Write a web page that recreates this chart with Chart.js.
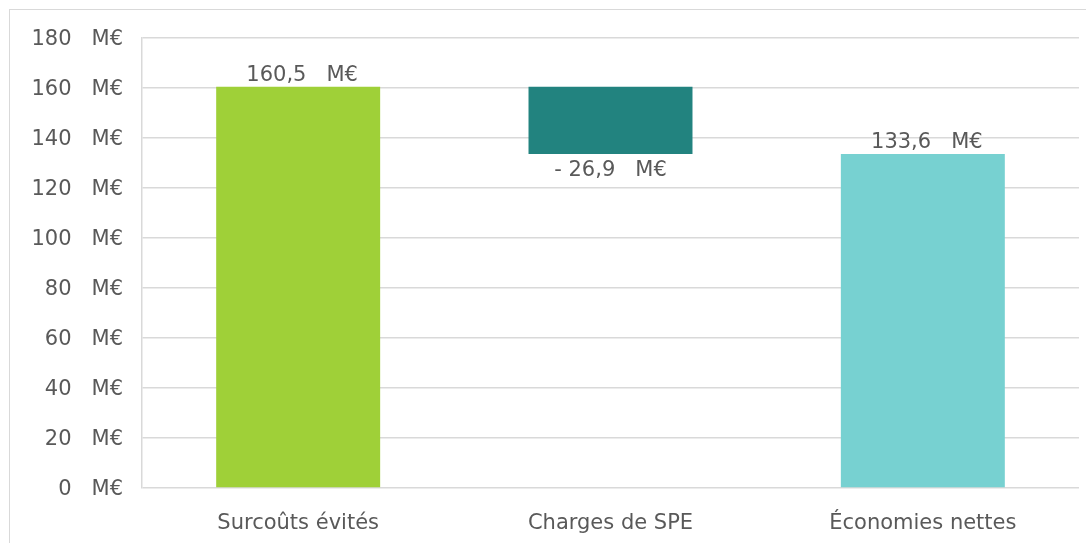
<!DOCTYPE html>
<html>
<head>
  <meta charset="utf-8">
  <title>Économies nettes</title>
  <script src="https://cdn.jsdelivr.net/npm/chart.js@4.4.0/dist/chart.umd.min.js"></script>
  <style>
    html, body {
      margin: 0;
      padding: 0;
      background: #fff;
      overflow: hidden;
    }

    .wrap {
      position: relative;
      width: 1086px;
      height: 543px;
    }

    .frame {
      position: absolute;
      left: 9px;
      top: 9px;
      width: 2000px;
      height: 2000px;
      border: 1.5px solid #d9d9d9;
      pointer-events: none;
    }
  </style>
</head>
<body>
<div class="wrap">
  <canvas id="waterfall" width="1086" height="543"></canvas>
  <div class="frame"></div>
</div>

<script>
  // waterfall: each bar floats from start to end
  const categories = ['Surcoûts évités', 'Charges de SPE', 'Économies nettes'];
  const barStart = [0, 160.5, 0];
  const barEnd = [160.5, 133.6, 133.6];
  const barValues = [160.5, -26.9, 133.6];
  const barColors = ['#9FD038', '#22837F', '#77D1D1'];
  const yTicks = [0, 20, 40, 60, 80, 100, 120, 140, 160, 180];

  const TEXT_COLOR = '#595959';
  const FONT = '"DejaVu Sans", Arial, sans-serif';
  const FONT_SIZE = 21;

  function fmt(v) {
    let s = Math.abs(v).toFixed(1).replace('.', ',');
    return (v < 0 ? '- ' : '') + s + '   M€';
  }

  const valueLabels = {
    id: 'valueLabels',
    afterDatasetsDraw(chart) {
      const ctx = chart.ctx;
      const y = chart.scales.y;
      const meta = chart.getDatasetMeta(0);
      ctx.save();
      ctx.font = `${FONT_SIZE}px ${FONT}`;
      ctx.fillStyle = TEXT_COLOR;
      ctx.textAlign = 'center';
      ctx.textBaseline = 'middle';
      meta.data.forEach((bar, i) => {
        const v = barValues[i];
        const top = y.getPixelForValue(Math.max(barStart[i], barEnd[i]));
        const bottom = y.getPixelForValue(Math.min(barStart[i], barEnd[i]));
        if (v < 0) {
          ctx.fillText(fmt(v), bar.x, bottom + 17);
        } else {
          ctx.fillText(fmt(v), bar.x + 4, top - 11);
        }
      });
      ctx.restore();
    }
  };

  new Chart(document.getElementById('waterfall'), {
    type: 'bar',
    data: {
      labels: categories,
      datasets: [{
        data: barStart.map((s, i) => [s, barEnd[i]]),
        backgroundColor: barColors,
        borderWidth: 0,
        categoryPercentage: 1,
        barPercentage: 0.525
      }]
    },
    options: {
      responsive: false,
      animation: false,
      events: [],
      layout: {
        padding: { left: 0, right: 7, top: 38, bottom: 0 }
      },
      plugins: {
        legend: { display: false },
        tooltip: { enabled: false }
      },
      scales: {
        x: {
          grid: { display: false },
          border: { display: false },
          ticks: {
            color: TEXT_COLOR,
            font: { family: FONT, size: FONT_SIZE },
            padding: 15
          },
          afterFit(scale) {
            scale.height = 55;
          }
        },
        y: {
          min: 0,
          max: 180,
          afterBuildTicks(scale) {
            scale.ticks = yTicks.map(v => ({ value: v }));
          },
          grid: {
            color: '#d9d9d9',
            lineWidth: 1.5,
            drawTicks: false
          },
          border: {
            display: true,
            color: '#d9d9d9',
            width: 1.5
          },
          ticks: {
            color: TEXT_COLOR,
            font: { family: FONT, size: FONT_SIZE },
            padding: 19,
            labelOffset: 2,
            callback(value) {
              return value + '   M€';
            }
          },
          afterFit(scale) {
            scale.width = 142;
          }
        }
      }
    },
    plugins: [valueLabels]
  });
</script>
</body>
</html>
